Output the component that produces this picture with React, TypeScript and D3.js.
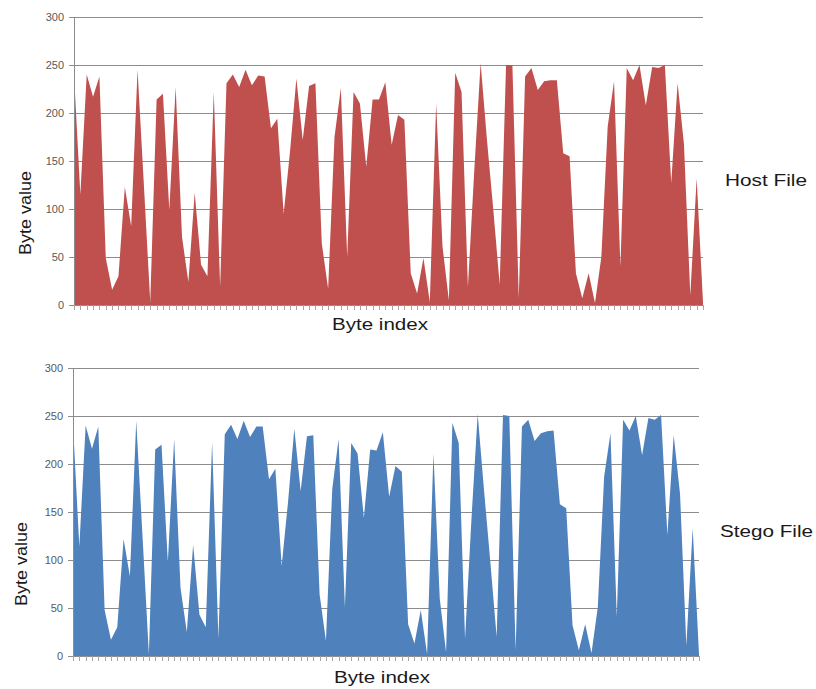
import { useEffect, useRef } from 'react';
import * as d3 from 'd3';

// Byte values (100 bytes per file)
const hostValues = [
  240, 115, 240, 217, 238, 49, 16, 30, 123, 82,
  245, 125, 3, 214, 220, 99, 227, 71, 24, 117,
  42, 30, 222, 19, 231, 240, 227, 245, 229, 239,
  238, 184, 194, 95, 160, 236, 172, 228, 231, 64,
  17, 175, 226, 50, 222, 210, 144, 214, 214, 232,
  167, 198, 193, 33, 12, 49, 3, 210, 61, 5,
  242, 222, 19, 140, 252, 172, 99, 21, 250, 250,
  7, 238, 247, 224, 233, 234, 234, 158, 155, 33,
  7, 33, 2, 50, 186, 233, 40, 247, 234, 250,
  208, 248, 247, 250, 127, 231, 168, 10, 132, 3,
];

const stegoValues = [
  241, 114, 240, 216, 239, 48, 17, 30, 122, 83,
  245, 124, 2, 215, 220, 98, 226, 71, 25, 116,
  43, 30, 223, 18, 231, 241, 226, 245, 228, 239,
  239, 184, 195, 94, 160, 237, 172, 229, 230, 64,
  16, 174, 226, 51, 222, 211, 144, 215, 214, 233,
  166, 198, 192, 33, 13, 48, 2, 211, 60, 4,
  243, 222, 18, 141, 252, 173, 98, 20, 251, 250,
  6, 239, 246, 224, 232, 234, 235, 158, 154, 32,
  6, 33, 3, 51, 187, 232, 41, 246, 235, 250,
  209, 248, 246, 251, 126, 230, 169, 11, 133, 2,
];

const yTicks = [0, 50, 100, 150, 200, 250, 300];

interface PanelProps {
  values: number[];
  color: string;
  label: string;
  left: number;
  right: number;
  top: number;
  bottom: number;
  yLabelX: number;
  yLabelY: number;
  yLabelLen: number;
  xLabelX: number;
  xLabelY: number;
  sideX: number;
  sideY: number;
  sideLen: number;
}

const Panel: React.FC<PanelProps> = (p) => {
  const gRef = useRef<SVGGElement>(null);

  useEffect(() => {
    if (!gRef.current) return;
    const g = d3.select(gRef.current);
    g.selectAll('*').remove();

    const x = d3.scaleLinear()
      .domain([0, p.values.length - 1])
      .range([p.left, p.right]);
    const y = d3.scaleLinear()
      .domain([0, 300])
      .range([p.bottom, p.top]);

    // gridlines
    g.append('g')
      .selectAll('line')
      .data(yTicks)
      .join('line')
      .attr('x1', p.left - 5)
      .attr('x2', p.right)
      .attr('y1', d => Math.round(y(d)) + 0.5)
      .attr('y2', d => Math.round(y(d)) + 0.5)
      .attr('stroke', '#8c8c8c')
      .attr('stroke-width', 1);

    // area
    const area = d3.area<number>()
      .x((_, i) => x(i))
      .y0(y(0))
      .y1(d => y(d));
    g.append('path')
      .datum(p.values)
      .attr('d', area)
      .attr('fill', p.color);

    // y axis line
    g.append('line')
      .attr('x1', p.left + 0.5)
      .attr('x2', p.left + 0.5)
      .attr('y1', y(300))
      .attr('y2', y(0))
      .attr('stroke', '#8c8c8c');

    // x axis with small ticks
    g.append('line')
      .attr('x1', p.left)
      .attr('x2', p.right)
      .attr('y1', Math.round(y(0)) + 0.5)
      .attr('y2', Math.round(y(0)) + 0.5)
      .attr('stroke', '#8c8c8c');
    g.append('g')
      .selectAll('line')
      .data(d3.range(p.values.length))
      .join('line')
      .attr('x1', i => Math.round(x(i)) + 0.5)
      .attr('x2', i => Math.round(x(i)) + 0.5)
      .attr('y1', y(0))
      .attr('y2', y(0) + 5)
      .attr('stroke', '#a6a6a6');

    // y tick labels
    g.append('g')
      .selectAll('text')
      .data(yTicks)
      .join('text')
      .attr('x', p.left - 10)
      .attr('y', d => y(d) + 4)
      .attr('text-anchor', 'end')
      .attr('font-size', '11px')
      .attr('fill', '#595959')
      .text(d => d);

    // axis titles
    g.append('text')
      .attr('transform', `translate(${p.yLabelX}, ${p.yLabelY}) rotate(-90)`)
      .attr('text-anchor', 'middle')
      .attr('font-size', '16px')
      .attr('fill', '#1a1a1a')
      .attr('textLength', p.yLabelLen)
      .attr('lengthAdjust', 'spacingAndGlyphs')
      .text('Byte value');

    g.append('text')
      .attr('x', p.xLabelX)
      .attr('y', p.xLabelY)
      .attr('text-anchor', 'middle')
      .attr('font-size', '16px')
      .attr('fill', '#1a1a1a')
      .attr('textLength', 96)
      .attr('lengthAdjust', 'spacingAndGlyphs')
      .text('Byte index');

    g.append('text')
      .attr('x', p.sideX)
      .attr('y', p.sideY)
      .attr('font-size', '16px')
      .attr('fill', '#1a1a1a')
      .attr('textLength', p.sideLen)
      .attr('lengthAdjust', 'spacingAndGlyphs')
      .text(p.label);
  }, [p]);

  return <g ref={gRef} />;
};

export default function App() {
  return (
    <svg
      width={816}
      height={689}
      style={{ position: 'absolute', left: 0, top: 0, background: '#fff' }}
      fontFamily="Arial, 'Liberation Sans', sans-serif"
    >
      <Panel
        values={hostValues}
        color="#c0504d"
        label="Host File"
        left={74}
        right={703}
        top={17}
        bottom={305}
        yLabelX={31}
        yLabelY={213}
        yLabelLen={84}
        xLabelX={380}
        xLabelY={330}
        sideX={725}
        sideY={186}
        sideLen={82}
      />
      <Panel
        values={stegoValues}
        color="#4f81bd"
        label="Stego File"
        left={73}
        right={699}
        top={368}
        bottom={656}
        yLabelX={27}
        yLabelY={564}
        yLabelLen={84}
        xLabelX={382}
        xLabelY={683}
        sideX={720}
        sideY={537}
        sideLen={93}
      />
    </svg>
  );
}
